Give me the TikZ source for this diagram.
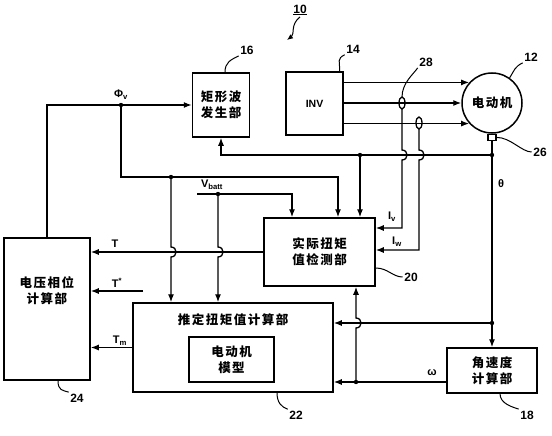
\documentclass[tikz,border=0pt]{standalone}
\usepackage{fontspec}
\setmainfont{Liberation Sans}
\newfontfamily\cjk{Noto Sans CJK SC}[LetterSpace=12]
\usetikzlibrary{arrows.meta}

\begin{document}
\begin{tikzpicture}[x=1pt, y=-1pt,
    >={Latex[length=8pt,width=6pt]},
    line width=1.3pt,
    blk/.style={draw, line width=1.5pt, inner sep=0pt, align=center,
      font=\cjk\bfseries\fontsize{12.5}{16}\selectfont},
    sig/.style={->},
    lead/.style={line width=1pt},
    num/.style={font=\bfseries\fontsize{12}{12}\selectfont, inner sep=1pt},
    lbl/.style={font=\bfseries\fontsize{11}{11}\selectfont, inner sep=1pt}]

  \useasboundingbox (0,0) rectangle (552,436);

  % 上排: 矩形波发生部, INV, 电动机
  \node[blk, minimum width=57pt, minimum height=64pt] (rect) at (221,105) {矩形波\\发生部};
  \node[blk, font=\bfseries\fontsize{10.5}{12}\selectfont,
        minimum width=57pt, minimum height=63pt] (inv) at (314.5,103.5) {INV};
  \node[blk, circle, minimum size=60pt] (motor) at (492,103) {电动机};
  \node[draw, minimum width=8pt, minimum height=6pt, inner sep=0pt, anchor=north] (enc) at (motor.south) {};

  % 中间: 实际扭矩值检测部
  \node[blk, minimum width=111pt, minimum height=68pt] (det) at (319.5,252) {实际扭矩\\值检测部};

  % 左: 电压相位计算部
  \node[draw, line width=1.5pt, minimum width=86pt, minimum height=142pt] (vph) at (47,309) {};
  \node[blk, draw=none] (vphtxt) at (47,291) {电压相位\\计算部};

  % 下排: 推定扭矩值计算部, 角速度计算部
  \node[draw, line width=1.5pt, minimum width=200pt, minimum height=89pt] (est) at (233,347.5) {};
  \node[blk, draw=none] (esttxt) at (233,320) {推定扭矩值计算部};
  \node[blk, minimum width=85pt, minimum height=45pt] (model) at (231.5,359.5) {电动机\\模型};
  \node[blk, minimum width=90pt, minimum height=45pt] (spd) at (492,370.5) {角速度\\计算部};

  % 分支点
  \coordinate (ctv) at (402,103);
  \coordinate (ctw) at (419,123);
  \coordinate (phi) at (121,105);
  \coordinate (pj)  at (171,177);
  \coordinate (pe)  at (338,177);
  \coordinate (vb)  at (197,194);
  \coordinate (vbd) at (218,194);
  \coordinate (ve)  at (292,194);
  \coordinate (fb)  at (492,155);
  \coordinate (fbd) at (360,155);
  \coordinate (th)  at (492,323);
  \coordinate (om)  at (356,382);
  \coordinate (ts)  at (143,291);
  \coordinate (p10) at (287,40);

  % INV 到电动机
  \draw[sig] (inv.east |- motor.138) -- (motor.138);
  \draw[sig] (inv.east |- motor.west) -- (motor.west);
  \draw[sig] (inv.east |- motor.222) -- (motor.222);

  % 电流传感器
  \draw (ctv) ellipse [x radius=3pt, y radius=6pt];
  \draw (ctw) ellipse [x radius=3pt, y radius=6pt];
  \draw[sig] ([yshift=-6pt]ctv) -- (402,150) .. controls (408.7,150) and (408.7,160) .. (402,160)
    -- (402,228) -- (det.east |- 0,228);
  \draw[sig] ([yshift=-6pt]ctw) -- (419,150) .. controls (425.7,150) and (425.7,160) .. (419,160)
    -- (419,250) -- (det.east |- 0,250);

  % 旋转角 θ
  \draw[sig] (enc.south) -- (fb) -- (rect.south |- fb) -- (rect.south);
  \draw[sig] (fbd) -- (fbd |- det.north);
  \draw[sig] (fb) -- (spd.north);
  \draw[sig] (th) -- (est.east |- th);

  % 角速度 ω
  \draw[sig] (spd.west |- om) -- (est.east |- om);
  \draw[sig] (om) -- (356,328) .. controls (362.7,328) and (362.7,318) .. (356,318) -- (om |- det.south);

  % 电压相位 Φv
  \draw[sig] (vph.north) -- (vph.north |- phi) -- (rect.west);
  \draw[sig] (phi) -- (phi |- pj) -- (pe) -- (pe |- det.north);
  \draw[sig] (pj) -- (171,247) .. controls (177.7,247) and (177.7,257) .. (171,257) -- (pj |- est.north);

  % 电池电压 Vbatt
  \draw[sig] (vb) -- (ve) -- (ve |- det.north);
  \draw[sig] (vbd) -- (218,247) .. controls (224.7,247) and (224.7,257) .. (218,257) -- (vbd |- est.north);

  % 扭矩
  \draw[sig] (det.west) -- (vph.east |- det.west);
  \draw[sig] (ts) -- (vph.east |- ts);
  \draw[sig] (est.west) -- (vph.east |- est.west);

  \foreach \p in {phi,pj,vbd,fb,fbd,th,om}
    \fill (\p) circle [radius=2.2pt];

  % 信号标注
  \node[lbl] (lphi) at (121,95)  {Φ\textsubscript{v}};
  \node[lbl] (lvb)  at (212,185) {V\textsubscript{batt}};
  \node[lbl] (liv)  at (392,217) {I\textsubscript{v}};
  \node[lbl] (liw)  at (397,242) {I\textsubscript{w}};
  \node[lbl] (lt)   at (115,244) {T};
  \node[lbl] (lts)  at (117,283) {T\textsuperscript{*}};
  \node[lbl] (ltm)  at (120,341) {T\textsubscript{m}};
  \node[lbl] (lom)  at (432,373) {ω};
  \node[lbl] (lth)  at (501,184) {θ};

  % 参考编号
  \node[num] (n10) at (300,10)  {\underline{10}};
  \node[num] (n16) at (247,50)  {16};
  \node[num] (n14) at (353,49)  {14};
  \node[num] (n28) at (426,62)  {28};
  \node[num] (n12) at (531,57)  {12};
  \node[num] (n26) at (540,152) {26};
  \node[num] (n20) at (411,277) {20};
  \node[num] (n22) at (296,415) {22};
  \node[num] (n24) at (77,398)  {24};
  \node[num] (n18) at (527,415) {18};

  \draw[lead, -{Latex[length=6pt,width=5pt]}] (n10.south) .. controls +(-10,8) and +(8,-6) .. (p10);
  \draw[lead] ([xshift=4pt]rect.north) .. controls +(0,-10) and +(-8,4) .. (n16.south west);
  \draw[lead] ([xshift=-4pt]inv.north east) .. controls +(0,-10) and +(-8,4) .. (n14.south west);
  \draw[lead] ([yshift=6pt]ctv) .. controls +(0,-14) and +(-4,6) .. (n28.south west);
  \draw[lead] (motor.55) .. controls +(5,-8) and +(-8,4) .. (n12.south west);
  \draw[lead] (enc.east) .. controls +(14,0) and +(-10,0) .. (n26.west);
  \draw[lead] ([yshift=-16pt]det.east) .. controls +(12,0) and +(-10,0) .. (n20.west);
  \draw[lead] ([xshift=44pt]est.south) .. controls +(0,10) and +(-6,-2) .. (n22.north west);
  \draw[lead] ([xshift=11pt]vph.south) .. controls +(0,10) and +(-6,-2) .. (n24.north west);
  \draw[lead] ([xshift=8pt]spd.south) .. controls +(0,10) and +(-6,-2) .. (n18.north west);

\end{tikzpicture}
\end{document}
